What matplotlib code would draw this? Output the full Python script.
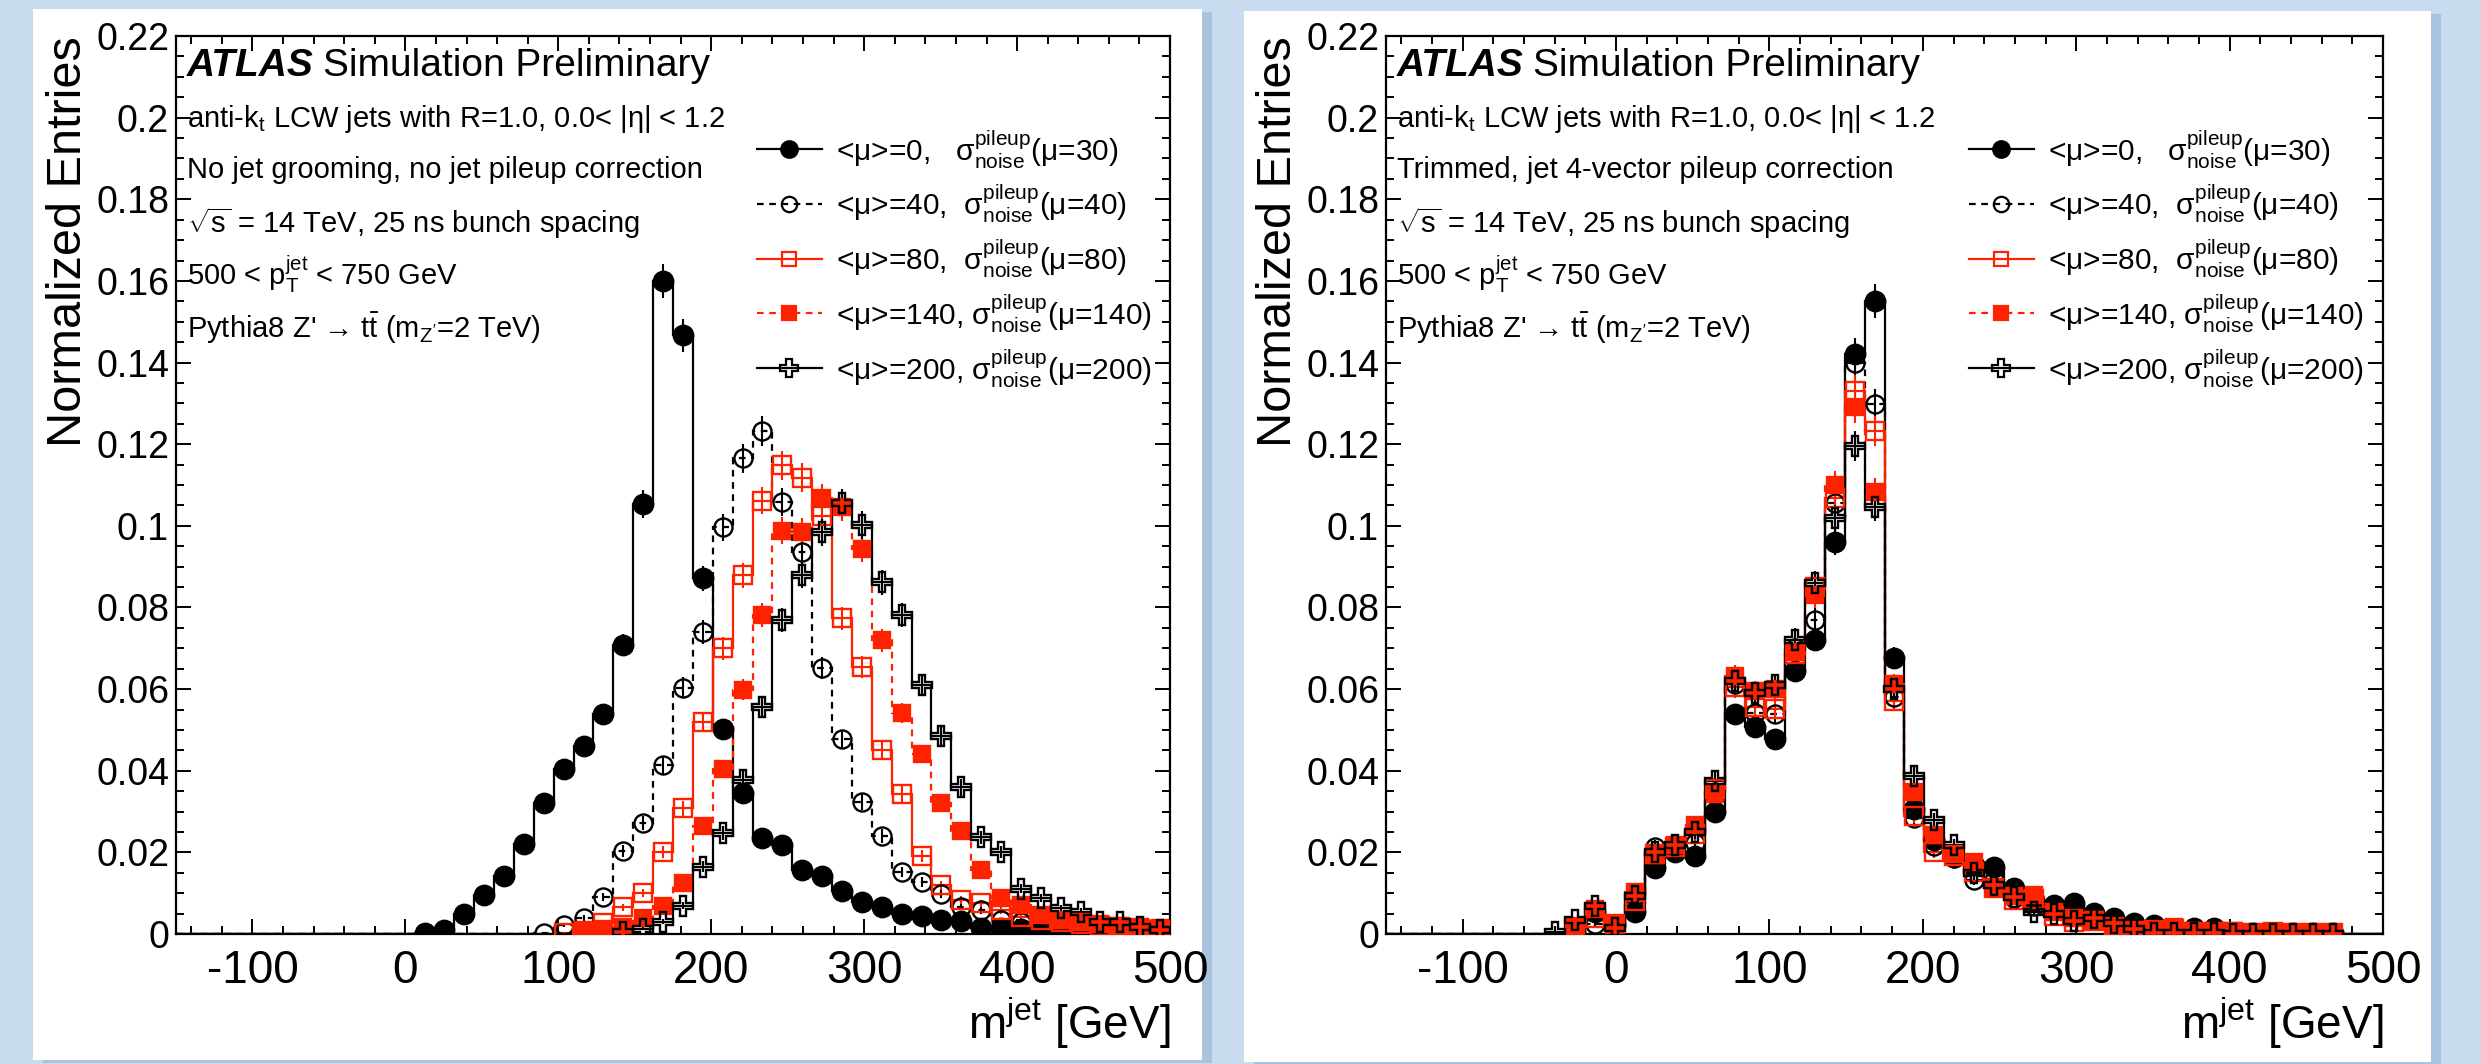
import numpy as np
import matplotlib
matplotlib.use("Agg")
import matplotlib.pyplot as plt
from matplotlib.patches import Rectangle
from matplotlib.ticker import MultipleLocator, FuncFormatter

plt.rcParams['font.family'] = ['Liberation Sans', 'DejaVu Sans']
plt.rcParams['mathtext.fontset'] = 'custom'
plt.rcParams['mathtext.rm'] = 'Liberation Sans'
plt.rcParams['mathtext.it'] = 'Liberation Sans:italic'
plt.rcParams['mathtext.bf'] = 'Liberation Sans:bold'
plt.rcParams['axes.unicode_minus'] = False

# 50 bins of 13 GeV from -150 to 500
edges = np.linspace(-150, 500, 51)
centers = 0.5 * (edges[1:] + edges[:-1])

# ---- left panel: no grooming, no pileup correction (first filled bin, values)
left_mu0_start = 12
left_mu0 = [0.0003, 0.0011, 0.005, 0.0095, 0.0143, 0.022, 0.032, 0.0404, 0.046, 0.0538,
            0.0708, 0.1053, 0.160, 0.1467, 0.0871, 0.0503, 0.0346, 0.0234, 0.0219, 0.0157,
            0.0141, 0.0106, 0.0078, 0.0065, 0.005, 0.0045, 0.0035, 0.0033, 0.0015, 0.0014,
            0.0013, 0.001, 0.0009, 0.0008, 0.0007, 0.0006, 0.0006, 0.0005]
left_mu40_start = 18
left_mu40 = [0.0002, 0.0023, 0.0039, 0.0091, 0.0204, 0.0271, 0.0414, 0.0603, 0.074, 0.0996,
             0.1165, 0.1232, 0.1059, 0.0937, 0.0651, 0.0477, 0.0323, 0.024, 0.0152, 0.0127,
             0.0099, 0.0067, 0.0058, 0.0034, 0.003, 0.0025, 0.002, 0.0017, 0.0015, 0.0012,
             0.001, 0.0008]
left_mu80_start = 19
left_mu80 = [0.0002, 0.0008, 0.0026, 0.0065, 0.01, 0.02, 0.0308, 0.052, 0.070, 0.0879,
             0.1062, 0.1148, 0.1118, 0.1025, 0.0773, 0.0655, 0.045, 0.0343, 0.0192, 0.0119,
             0.0083, 0.0075, 0.0058, 0.0042, 0.0035, 0.003, 0.0025, 0.002, 0.0016, 0.0012,
             0.001]
left_mu140_start = 20
left_mu140 = [0.0008, 0.0012, 0.0018, 0.0039, 0.0069, 0.0124, 0.0265, 0.0404, 0.0598, 0.0781,
              0.0988, 0.0986, 0.1067, 0.1045, 0.0944, 0.072, 0.0542, 0.044, 0.0322, 0.0253,
              0.0156, 0.0087, 0.0071, 0.0046, 0.0034, 0.003, 0.0025, 0.002, 0.0018, 0.0015]
left_mu200_start = 22
left_mu200 = [0.0004, 0.0013, 0.003, 0.0069, 0.0165, 0.0247, 0.0378, 0.0557, 0.0769, 0.0879,
              0.0984, 0.1057, 0.1002, 0.0862, 0.0781, 0.0611, 0.0484, 0.0359, 0.0237, 0.02,
              0.0111, 0.0087, 0.0063, 0.0055, 0.003, 0.0029, 0.0018, 0.001]

# ---- right panel: trimmed, 4-vector pileup correction
right_mu0_start = 9
right_mu0 = [0.0005, 0.0055, 0.0023, 0.0055, 0.0161, 0.0201, 0.019, 0.0299, 0.0538, 0.0506,
             0.0477, 0.0644, 0.0721, 0.0961, 0.142, 0.155, 0.0677, 0.0307, 0.023, 0.0189,
             0.0169, 0.0165, 0.0112, 0.008, 0.0071, 0.0076, 0.0051, 0.0039, 0.0027, 0.0023,
             0.0007, 0.0015, 0.0015, 0.0003, 0.0003, 0.0003, 0.0003, 0.0003, 0.0003]
right_mu40_start = 9
right_mu40 = [0.0005, 0.0025, 0.0015, 0.0075, 0.0214, 0.0214, 0.0222, 0.0347, 0.0612, 0.0542,
              0.054, 0.070, 0.077, 0.1055, 0.140, 0.1298, 0.058, 0.0283, 0.0215, 0.0185,
              0.0132, 0.0132, 0.0088, 0.0068, 0.0058, 0.0047, 0.0035, 0.002, 0.001, 0.0008,
              0.0006, 0.0005, 0.0004, 0.0003, 0.0003, 0.0002, 0.0002, 0.0002, 0.0002]
right_mu80_start = 9
right_mu80 = [0.0015, 0.0038, 0.0025, 0.0082, 0.0197, 0.0214, 0.0244, 0.0355, 0.0604, 0.0555,
              0.0552, 0.0686, 0.085, 0.1067, 0.133, 0.1233, 0.0571, 0.029, 0.0202, 0.0192,
              0.0153, 0.0112, 0.0084, 0.0085, 0.0044, 0.003, 0.0032, 0.0018, 0.0008, 0.0009,
              0.0012, 0.0006, 0.0004, 0.0005, 0.0003, 0.0004, 0.0002, 0.0002, 0.0002]
right_mu140_start = 9
right_mu140 = [0.0019, 0.0062, 0.0025, 0.0104, 0.0193, 0.0218, 0.0266, 0.0343, 0.0632, 0.0595,
               0.060, 0.069, 0.083, 0.1099, 0.129, 0.1083, 0.0612, 0.0348, 0.0242, 0.0197,
               0.0177, 0.0112, 0.0092, 0.0096, 0.0055, 0.0039, 0.0035, 0.0018, 0.0008, 0.001,
               0.0016, 0.0008, 0.0003, 0.0007, 0.0003, 0.0006, 0.0002, 0.0002, 0.0002]
right_mu200_start = 8
right_mu200 = [0.0005, 0.0035, 0.0068, 0.0015, 0.0092, 0.0201, 0.0219, 0.025, 0.0376, 0.062,
               0.059, 0.061, 0.0721, 0.0859, 0.1018, 0.1196, 0.1046, 0.060, 0.0388, 0.0279,
               0.0218, 0.015, 0.012, 0.009, 0.0055, 0.005, 0.0031, 0.004, 0.0027, 0.0012,
               0.0002, 0.0003, 0.0002, 0.0002, 0.0001, 0.0001, 0.0001, 0.0001, 0.0001, 0.0001]

labels = [u"<\u03bc>=0,   \u03c3${}^{\\rm pileup}_{\\rm noise}$(\u03bc=30)",
          u"<\u03bc>=40,  \u03c3${}^{\\rm pileup}_{\\rm noise}$(\u03bc=40)",
          u"<\u03bc>=80,  \u03c3${}^{\\rm pileup}_{\\rm noise}$(\u03bc=80)",
          u"<\u03bc>=140, \u03c3${}^{\\rm pileup}_{\\rm noise}$(\u03bc=140)",
          u"<\u03bc>=200, \u03c3${}^{\\rm pileup}_{\\rm noise}$(\u03bc=200)"]

red = '#ff2200'
styles = [
    dict(marker='o', ms=14, mfc='black', mec='black', color='black', ls='-'),
    dict(marker='o', ms=13, mfc='none', mec='black', color='black', ls=(0, (3, 2.5))),
    dict(marker='s', ms=12.5, mfc='none', mec=red, color=red, ls='-'),
    dict(marker='s', ms=12, mfc=red, mec=red, color=red, ls=(0, (3, 2.5))),
    dict(marker='P', ms=15, mfc='none', mec='black', color='black', ls='-'),
]
draw_order = [1, 2, 3, 4, 0]


def expand(start, vals):
    arr = np.full(len(centers), np.nan)
    arr[start:start + len(vals)] = vals
    return arr


def draw_panel(ax, series, info_line):
    for i in draw_order:
        st = styles[i]
        v = expand(*series[i])
        ax.stairs(np.nan_to_num(v), edges, color=st['color'], ls=st['ls'], lw=1.6, zorder=2 + i * 0.1)
        m = ~np.isnan(v)
        # stat. error bars, roughly sqrt(N)
        err = 0.0105 * np.sqrt(v[m])
        ax.errorbar(centers[m], v[m], yerr=err, fmt='none', ecolor=st['color'], elinewidth=1.5,
                    zorder=3 + i * 0.1)
        ax.plot(centers[m], v[m], ls='none', marker=st['marker'], ms=st['ms'], mfc=st['mfc'],
                mec=st['mec'], mew=1.7, zorder=4 + i * 0.1)

    ax.set_xlim(-150, 500)
    ax.set_ylim(0, 0.22)
    ax.xaxis.set_major_locator(MultipleLocator(100))
    ax.xaxis.set_minor_locator(MultipleLocator(20))
    ax.yaxis.set_major_locator(MultipleLocator(0.02))
    ax.yaxis.set_minor_locator(MultipleLocator(0.005))
    ax.yaxis.set_major_formatter(FuncFormatter(lambda v, p: '%g' % round(v, 3)))
    ax.tick_params(which='both', direction='in', top=True, right=True, width=1.4)
    ax.tick_params(which='major', length=11)
    ax.tick_params(which='minor', length=6)
    ax.tick_params(axis='y', labelsize=27, pad=5)
    ax.tick_params(axis='x', labelsize=33, pad=11)
    for s in ax.spines.values():
        s.set_linewidth(1.6)
    ax.set_ylabel('Normalized Entries', fontsize=35, loc='top', labelpad=4)
    ax.set_xlabel('m$^{\\rm jet}$ [GeV]', fontsize=33, loc='right', labelpad=2)

    # text block
    tx = 0.011
    t = ax.text(tx, 0.9555, 'ATLAS', transform=ax.transAxes, fontsize=28,
                fontweight='bold', fontstyle='italic', va='baseline')
    ax.annotate('Simulation Preliminary', xy=(1, 0), xycoords=t, xytext=(7, 0),
                textcoords='offset points', fontsize=28, va='bottom')
    lines = [u"anti-k$_{\\rm t}$ LCW jets with R=1.0, 0.0< |\u03b7| < 1.2",
             info_line,
             "$\\sqrt{\\rm s}$ = 14 TeV, 25 ns bunch spacing",
             "500 < $\\mathrm{p}^{\\rm jet}_{\\rm T}$ < 750 GeV",
             u"Pythia8 Z' \u2192 $\\mathrm{t}\\bar{\\mathrm{t}}$ (m$_{\\rm Z'}$=2 TeV)"]
    ys = [0.8987, 0.8419, 0.7805, 0.7225, 0.6635]
    for s, y in zip(lines, ys):
        ax.text(tx, y, s, transform=ax.transAxes, fontsize=21, va='baseline')

    # legend drawn by hand, ROOT style
    rows = [0.874, 0.813, 0.752, 0.691, 0.630]
    for i, y in enumerate(rows):
        st = styles[i]
        ax.plot([0.5845, 0.6499], [y, y], transform=ax.transAxes, color=st['color'],
                ls=st['ls'], lw=1.6, clip_on=False)
        ax.plot([0.617], [y], transform=ax.transAxes, ls='none', marker=st['marker'],
                ms=st['ms'] * 0.85, mfc=st['mfc'], mec=st['mec'], mew=1.6, clip_on=False)
        ax.text(0.664, y, labels[i], transform=ax.transAxes, fontsize=21.5, va='center')


fig = plt.figure(figsize=(24.81, 10.64), dpi=100)
fig.patch.set_facecolor('#c9dcef')

# white slide panels with a soft shadow
for x0, y0, w, h in [(0.0133, 0.0038, 0.4712, 0.9878), (0.5014, 0.0019, 0.4784, 0.9878)]:
    fig.add_artist(Rectangle((x0 + 0.004, y0 - 0.003), w, h, transform=fig.transFigure,
                             facecolor='#a9c2dd', edgecolor='none', zorder=-2))
    fig.add_artist(Rectangle((x0, y0), w, h, transform=fig.transFigure,
                             facecolor='white', edgecolor='none', zorder=-1))

ax1 = fig.add_axes([0.07094, 0.12218, 0.40065, 0.84398])
ax2 = fig.add_axes([0.55865, 0.12218, 0.40185, 0.84398])
for ax in (ax1, ax2):
    ax.set_zorder(1)

left = [(left_mu0_start, left_mu0), (left_mu40_start, left_mu40), (left_mu80_start, left_mu80),
        (left_mu140_start, left_mu140), (left_mu200_start, left_mu200)]
right = [(right_mu0_start, right_mu0), (right_mu40_start, right_mu40),
         (right_mu80_start, right_mu80), (right_mu140_start, right_mu140),
         (right_mu200_start, right_mu200)]

draw_panel(ax1, left, "No jet grooming, no jet pileup correction")
draw_panel(ax2, right, "Trimmed, jet 4-vector pileup correction")

fig.savefig('out.png', dpi=100, facecolor=fig.get_facecolor())
